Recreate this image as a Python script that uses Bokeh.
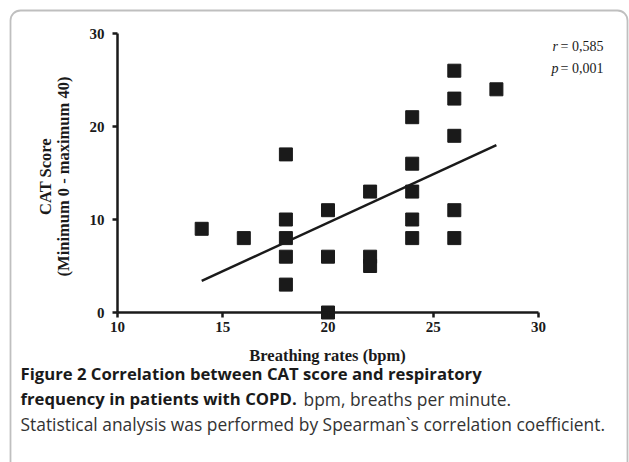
from bokeh.plotting import figure
from bokeh.models import Range1d, FixedTicker, Label, LinearAxis, BoxAnnotation
from bokeh.embed import file_html
from bokeh.resources import INLINE
import math

# ---- data ----
breathing_rates = [14, 16, 18, 18, 18, 18, 18, 20, 20, 20, 22, 22, 22,
                   24, 24, 24, 24, 24, 26, 26, 26, 26, 26, 28]
cat_scores = [9, 8, 17, 10, 8, 6, 3, 11, 6, 0, 13, 6, 5,
              21, 16, 13, 10, 8, 26, 23, 19, 11, 8, 24]
fit_x = [14, 28]
fit_y = [3.4, 18.0]
x_ticks = [10, 15, 20, 25, 30]
y_ticks = [0, 10, 20, 30]

W, H = 629, 462

# layout: pixel anchors of the axes on the page
X0_PX, X1_PX = 117, 538   # x = 10 and x = 30
Y0_PX, Y1_PX = 312, 33    # y = 0 and y = 30
kx = (X1_PX - X0_PX) / 20.0
ky = (Y0_PX - Y1_PX) / 30.0
x_start = 10 - X0_PX / kx
y_end = 30 + Y1_PX / ky

p = figure(width=W, height=H, output_backend="svg", toolbar_location=None,
           x_range=Range1d(x_start, x_start + W / kx),
           y_range=Range1d(y_end - H / ky, y_end),
           x_axis_location=None, y_axis_location=None,
           min_border=0, min_border_left=0, min_border_right=0,
           min_border_top=0, min_border_bottom=0)
p.outline_line_color = None
p.xgrid.visible = False
p.ygrid.visible = False
p.background_fill_color = "white"
p.border_fill_color = "white"

xaxis = LinearAxis(fixed_location=0, bounds=(10, 30),
                   ticker=FixedTicker(ticks=x_ticks))
yaxis = LinearAxis(fixed_location=10, bounds=(0, 30),
                   ticker=FixedTicker(ticks=y_ticks))
p.add_layout(xaxis, "below")
p.add_layout(yaxis, "left")

for ax in (xaxis, yaxis):
    ax.axis_line_width = 2.5
    ax.axis_line_color = "#1a1a1a"
    ax.major_tick_line_width = 2.5
    ax.major_tick_line_color = "#1a1a1a"
    ax.major_tick_out = 5
    ax.major_tick_in = 0
    ax.minor_tick_line_color = None
    ax.major_label_text_font = "Liberation Serif"
    ax.major_label_text_font_style = "bold"
    ax.major_label_text_font_size = "15px"
    ax.major_label_text_color = "#1a1a1a"
xaxis.major_label_standoff = 4
yaxis.major_label_standoff = 8

# frame of the figure panel (rounded, open at the bottom)
p.add_layout(BoxAnnotation(left=10, right=627, top=H - 10, bottom=-30,
                           left_units="screen", right_units="screen",
                           top_units="screen", bottom_units="screen",
                           fill_alpha=0, line_color="#2b2b2b", line_width=1.8,
                           border_radius=10))

p.line(fit_x, fit_y, line_color="#1a1a1a", line_width=2.5)
p.scatter(breathing_rates, cat_scores, marker="square", size=13,
          fill_color="#1a1a1a", line_color="#1a1a1a")

serif = "Liberation Serif"
sans = "Open Sans"


def lab(text, x, y, font, size, style="normal", color="#1a1a1a", align="left",
        angle=0.0):
    p.add_layout(Label(x=x, y=H - y, x_units="screen", y_units="screen",
                       text=text, text_font=font, text_font_size=size,
                       text_font_style=style, text_color=color, text_align=align,
                       text_baseline="middle", angle=angle))


# axis titles
lab("Breathing rates (bpm)", 327, 355, serif, "16.5px", "bold", align="center")
lab("CAT Score", 45, 176, serif, "16.5px", "bold", align="center", angle=math.pi / 2)
lab("(Minimum 0 - maximum 40)", 63, 176, serif, "16.5px", "bold", align="center",
    angle=math.pi / 2)

# statistics
lab("r", 552, 46, serif, "14px", "italic")
lab("= 0,585", 560, 46, serif, "14px")
lab("p", 551, 68, serif, "14px", "italic")
lab("= 0,001", 560, 68, serif, "14px")

# caption
lab("Figure 2 Correlation between CAT score and respiratory", 20, 373, sans,
    "16.7px", "bold")
lab("frequency in patients with COPD.", 20, 398, sans, "16.7px", "bold")
lab("bpm, breaths per minute.", 303, 398, sans, "17.4px", "normal", color="#333333")
lab("Statistical analysis was performed by Spearman`s correlation coefficient.",
    20, 423, sans, "17.4px", "normal", color="#333333")

open("out.html", "w").write(file_html(p, INLINE))
